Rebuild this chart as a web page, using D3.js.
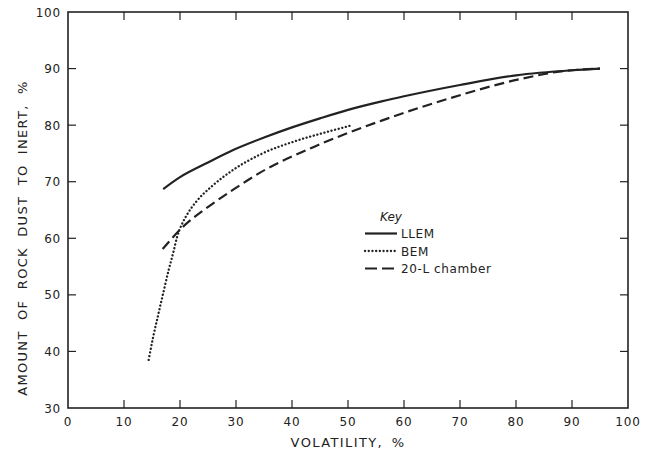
<!DOCTYPE html>
<html>
<head>
<meta charset="utf-8">
<script src="https://cdn.jsdelivr.net/npm/d3@7"></script>
<style>
  body { margin: 0; background: #fff; }
  svg { display: block; }
  text { font-family: "DejaVu Sans", "Liberation Sans", sans-serif; fill: #222; }
</style>
</head>
<body>
<svg id="chart" width="651" height="453"></svg>
<script>
// values
var xTicks = [0, 10, 20, 30, 40, 50, 60, 70, 80, 90, 100];
var yTicks = [30, 40, 50, 60, 70, 80, 90, 100];

var llemX = [17, 20, 25, 29.5, 35, 40, 45, 50, 56, 60, 70, 80, 90, 95];
var llemY = [68.7, 70.8, 73.4, 75.6, 77.8, 79.6, 81.2, 82.7, 84.2, 85.1, 87.1, 88.8, 89.7, 90];

var bemX = [14.4, 15.2, 16, 17, 18, 18.8, 19.5, 20.3, 21.2, 23, 25.7, 29.5, 34.5, 41, 47, 50.4];
var bemY = [38.5, 42.5, 46, 50.3, 54.5, 57.5, 60.3, 62.4, 64.1, 66.6, 69.2, 72.1, 74.9, 77.3, 79, 79.9];

var chamberX = [16.9, 20.6, 25.1, 29.5, 34.3, 44, 56, 68, 81, 88, 95];
var chamberY = [58.1, 62.1, 65.6, 68.6, 71.6, 76.2, 80.8, 84.7, 88.2, 89.5, 90];

var seriesNames = ["LLEM", "BEM", "20-L chamber"];

var svg = d3.select("#chart");
var margin = {left: 68, right: 23, top: 12, bottom: 45};
var width = +svg.attr("width"), height = +svg.attr("height");

var x = d3.scaleLinear().domain([0, 100]).range([margin.left, width - margin.right]);
var y = d3.scaleLinear().domain([30, 100]).range([height - margin.bottom, margin.top]);

/*
  Frame and ticks (inward, all four sides)
*/
var frame = svg.append("g");
frame.append("rect")
  .attr("x", x(0)).attr("y", y(100))
  .attr("width", x(100) - x(0)).attr("height", y(30) - y(100))
  .attr("fill", "none").attr("stroke", "#222").attr("stroke-width", 1.6);

var tickLen = 8;
frame.selectAll(".xt-b").data(xTicks.slice(1, -1)).enter().append("line")
  .attr("x1", function(d) { return x(d); }).attr("x2", function(d) { return x(d); })
  .attr("y1", y(30)).attr("y2", y(30) - tickLen)
  .attr("stroke", "#222").attr("stroke-width", 1.2);
frame.selectAll(".xt-t").data(xTicks.slice(1, -1)).enter().append("line")
  .attr("x1", function(d) { return x(d); }).attr("x2", function(d) { return x(d); })
  .attr("y1", y(100)).attr("y2", y(100) + tickLen)
  .attr("stroke", "#222").attr("stroke-width", 1.2);
frame.selectAll(".yt-l").data(yTicks.slice(1, -1)).enter().append("line")
  .attr("x1", x(0)).attr("x2", x(0) + tickLen)
  .attr("y1", function(d) { return y(d); }).attr("y2", function(d) { return y(d); })
  .attr("stroke", "#222").attr("stroke-width", 1.2);
frame.selectAll(".yt-r").data(yTicks.slice(1, -1)).enter().append("line")
  .attr("x1", x(100)).attr("x2", x(100) - tickLen)
  .attr("y1", function(d) { return y(d); }).attr("y2", function(d) { return y(d); })
  .attr("stroke", "#222").attr("stroke-width", 1.2);

frame.selectAll(".xl").data(xTicks).enter().append("text")
  .attr("x", function(d) { return x(d); })
  .attr("y", y(30) + 18)
  .attr("text-anchor", "middle")
  .attr("font-size", 12).attr("letter-spacing", 0.8)
  .text(function(d) { return d; });
frame.selectAll(".yl").data(yTicks).enter().append("text")
  .attr("x", x(0) - 7)
  .attr("y", function(d) { return y(d) + 4.5; })
  .attr("text-anchor", "end")
  .attr("font-size", 12).attr("letter-spacing", 0.8)
  .text(function(d) { return d; });

svg.append("text")
  .attr("x", (x(0) + x(100)) / 2).attr("y", 447)
  .attr("text-anchor", "middle").attr("font-size", 13)
  .attr("letter-spacing", 1.4).attr("word-spacing", 3)
  .text("VOLATILITY, %");
svg.append("text")
  .attr("transform", "translate(27,238) rotate(-90)")
  .attr("text-anchor", "middle").attr("font-size", 13)
  .attr("letter-spacing", 1.3).attr("word-spacing", 5)
  .text("AMOUNT OF ROCK DUST TO INERT, %");

/*
  Curves
*/
var line = d3.line()
  .x(function(d) { return x(d[0]); })
  .y(function(d) { return y(d[1]); })
  .curve(d3.curveMonotoneX);

function pairs(xs, ys) { return xs.map(function(v, i) { return [v, ys[i]]; }); }

var styles = [
  {dash: null, width: 2.2, cap: "butt"},
  {dash: "0.1 3.6", width: 2.3, cap: "round"},
  {dash: "10 5", width: 2.2, cap: "butt"}
];

var series = [pairs(llemX, llemY), pairs(bemX, bemY), pairs(chamberX, chamberY)];

svg.append("g").selectAll("path").data(series).enter().append("path")
  .attr("d", line)
  .attr("fill", "none")
  .attr("stroke", "#222")
  .attr("stroke-width", function(d, i) { return styles[i].width; })
  .attr("stroke-linecap", function(d, i) { return styles[i].cap; })
  .attr("stroke-dasharray", function(d, i) { return styles[i].dash; });

/*
  Key
*/
var key = svg.append("g").attr("transform", "translate(365,0)");
key.append("text")
  .attr("x", 15).attr("y", 221)
  .attr("font-size", 12).attr("font-style", "italic")
  .text("Key");
var rows = key.selectAll(".row").data(seriesNames).enter().append("g")
  .attr("transform", function(d, i) { return "translate(0," + (233.5 + i * 17.5) + ")"; });
rows.append("line")
  .attr("x1", 0).attr("x2", 32).attr("y1", 0).attr("y2", 0)
  .attr("stroke", "#222")
  .attr("stroke-width", function(d, i) { return styles[i].width; })
  .attr("stroke-linecap", function(d, i) { return styles[i].cap; })
  .attr("stroke-dasharray", function(d, i) { return i === 2 ? "12 5" : styles[i].dash; });
rows.append("text")
  .attr("x", 36).attr("y", 4.5)
  .attr("font-size", 12).attr("letter-spacing", 0.6)
  .text(function(d) { return d; });
</script>
</body>
</html>
